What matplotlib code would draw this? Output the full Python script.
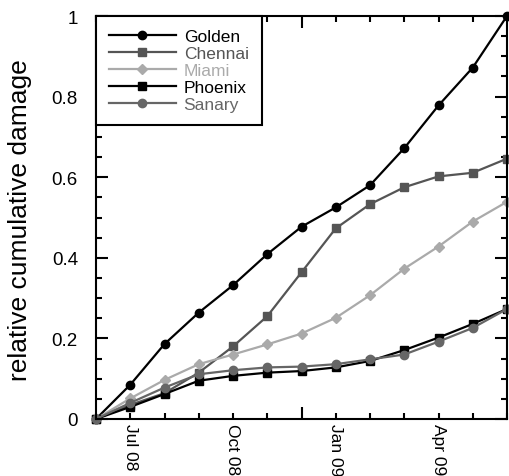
import matplotlib
matplotlib.use("Agg")
import matplotlib.pyplot as plt
import numpy as np

plt.rcParams['font.family'] = ['Liberation Sans', 'DejaVu Sans']

months = ["Jun 08", "Jul 08", "Aug 08", "Sep 08", "Oct 08", "Nov 08", "Dec 08",
          "Jan 09", "Feb 09", "Mar 09", "Apr 09", "May 09", "Jun 09"]
tick_labels = ["Jul 08", "Oct 08", "", "Jan 09", "Apr 09"]

golden = [0, 0.085, 0.186, 0.264, 0.332, 0.409, 0.477, 0.525, 0.580, 0.672, 0.778, 0.872, 1.0]
chennai = [0, 0.035, 0.064, 0.115, 0.180, 0.255, 0.364, 0.473, 0.533, 0.575, 0.602, 0.611, 0.646]
miami = [0, 0.051, 0.097, 0.136, 0.160, 0.185, 0.212, 0.251, 0.307, 0.373, 0.428, 0.490, 0.539]
phoenix = [0, 0.030, 0.062, 0.095, 0.107, 0.115, 0.119, 0.128, 0.144, 0.171, 0.202, 0.236, 0.273]
sanary = [0, 0.040, 0.078, 0.111, 0.121, 0.128, 0.130, 0.136, 0.148, 0.160, 0.192, 0.226, 0.273]

series = [
    ("Golden", golden, "#000000", "o", 6),
    ("Chennai", chennai, "#555555", "s", 6),
    ("Miami", miami, "#aaaaaa", "D", 5.5),
    ("Phoenix", phoenix, "#000000", "s", 6),
    ("Sanary", sanary, "#666666", "o", 6),
]

fig = plt.figure(figsize=(5.09, 4.77), dpi=100)
ax = fig.add_axes([96/509, 1-420/477, (507-96)/509, (420-17)/477])

x = np.arange(len(months))
handles = []
for name, vals, col, mk, ms in series:
    h, = ax.plot(x, vals, color=col, marker=mk, markersize=ms, linewidth=1.6,
                 markeredgecolor=col, markerfacecolor=col, label=name, clip_on=False)
    handles.append(h)

ax.set_xlim(0, len(months) - 1)
ax.set_ylim(0, 1)

major_x = [1, 4, 6, 7, 10]
ax.set_xticks(major_x)
ax.set_xticklabels(tick_labels, rotation=-90, fontsize=12.5)
ax.set_xticks([i for i in x if i not in major_x], minor=True)

ax.set_yticks([0, 0.2, 0.4, 0.6, 0.8, 1.0])
ax.set_yticklabels(["0", "0.2", "0.4", "0.6", "0.8", "1"], fontsize=13.5)
ax.set_yticks(np.arange(0, 1.0001, 0.05), minor=True)

ax.tick_params(axis='y', which='major', direction='in', length=8.5, width=1.5, right=True, pad=13)
ax.tick_params(axis='y', which='minor', direction='in', length=4.5, width=1.5, right=True)
ax.tick_params(axis='x', which='major', direction='in', length=4.5, width=1.5, top=True, pad=3)
ax.tick_params(axis='x', which='minor', direction='in', length=4.5, width=1.5, top=True)
# the tick at index 6 is drawn longer
t6 = ax.xaxis.get_major_ticks()[2]
t6.tick1line.set_markersize(8.5)
t6.tick2line.set_markersize(8.5)
for s in ax.spines.values():
    s.set_linewidth(1.5)

ax.set_ylabel("relative cumulative damage", fontsize=19)
ax.yaxis.set_label_coords(-0.155, 0.495)

leg = ax.legend(handles=handles, loc='upper left', borderaxespad=0, fancybox=False,
                edgecolor='black', framealpha=1, fontsize=12.5, handlelength=3.85,
                labelspacing=0.1, borderpad=0.75, handletextpad=0.45)
leg.get_frame().set_linewidth(1.5)
for t, (name, vals, col, mk, ms) in zip(leg.get_texts(), series):
    t.set_color(col)

fig.savefig("out.png", dpi=100)
